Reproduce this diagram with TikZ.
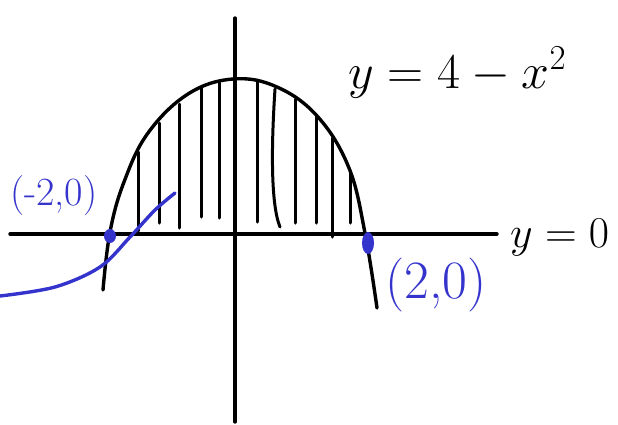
\RequirePackage{fix-cm}
\documentclass[tikz,border=0pt]{standalone}
\definecolor{handblue}{RGB}{52,52,204}
\tikzset{
  ink/.style={line width=3.4pt, line cap=round, line join=round},
  hatch/.style={line width=3pt, line cap=round},
  bluelbl/.style={text=handblue, inner sep=0pt},
  blklbl/.style={text=black, inner sep=0pt}
}
\begin{document}
\begin{tikzpicture}[x=1pt,y=-1pt]
\useasboundingbox (0,0) rectangle (618,424);
% axes
\coordinate (xl) at (10,234);
\coordinate (xr) at (497,234);
\coordinate (yt) at (235,18);
\coordinate (yb) at (235,422);
\draw[ink] (xl) -- (xr);
\draw[ink] (yt) -- (yb);
% parabola
\draw[ink] plot[smooth, tension=0.65] coordinates {(103,290) (110,232) (124,182) (148,133) (188,94) (233,79) (277,87) (318,117) (349,168) (365,233) (377,308)};
% hatching
\foreach \x/\t/\b in {138/152/231, 159/123/223, 179/104/228, 201/88/217, 219/82/218, 257/80/222, 295/99/223, 316/116/223, 332/138/237, 350/172/223}
  \draw[hatch] (\x,\t) -- (\x,\b);
\draw[hatch] (275,89) .. controls (271,150) and (271,205) .. (280,227);
% blue curve
\draw[ink, handblue] plot[smooth, tension=0.55] coordinates {(0,296) (55,287) (100,267) (130,237) (155,210) (175,193)};
% points
\fill[handblue] (110,236) ellipse (6pt and 7pt);
\fill[handblue] (368,243) ellipse (6pt and 11pt);
% labels
\node[blklbl, anchor=base west] (eq) at (348,88) {\fontsize{50}{56}\selectfont $y=4-x^2$};
\node[blklbl, anchor=base west] (y0) at (510,247) {\fontsize{44}{50}\selectfont $y=0$};
\node[bluelbl, anchor=base west] (lp) at (10,205) {\fontsize{40}{46}\selectfont (-2,0)};
\node[bluelbl, anchor=base west] (rp) at (385,298) {\fontsize{54}{60}\selectfont (2,0)};
\end{tikzpicture}
\end{document}
